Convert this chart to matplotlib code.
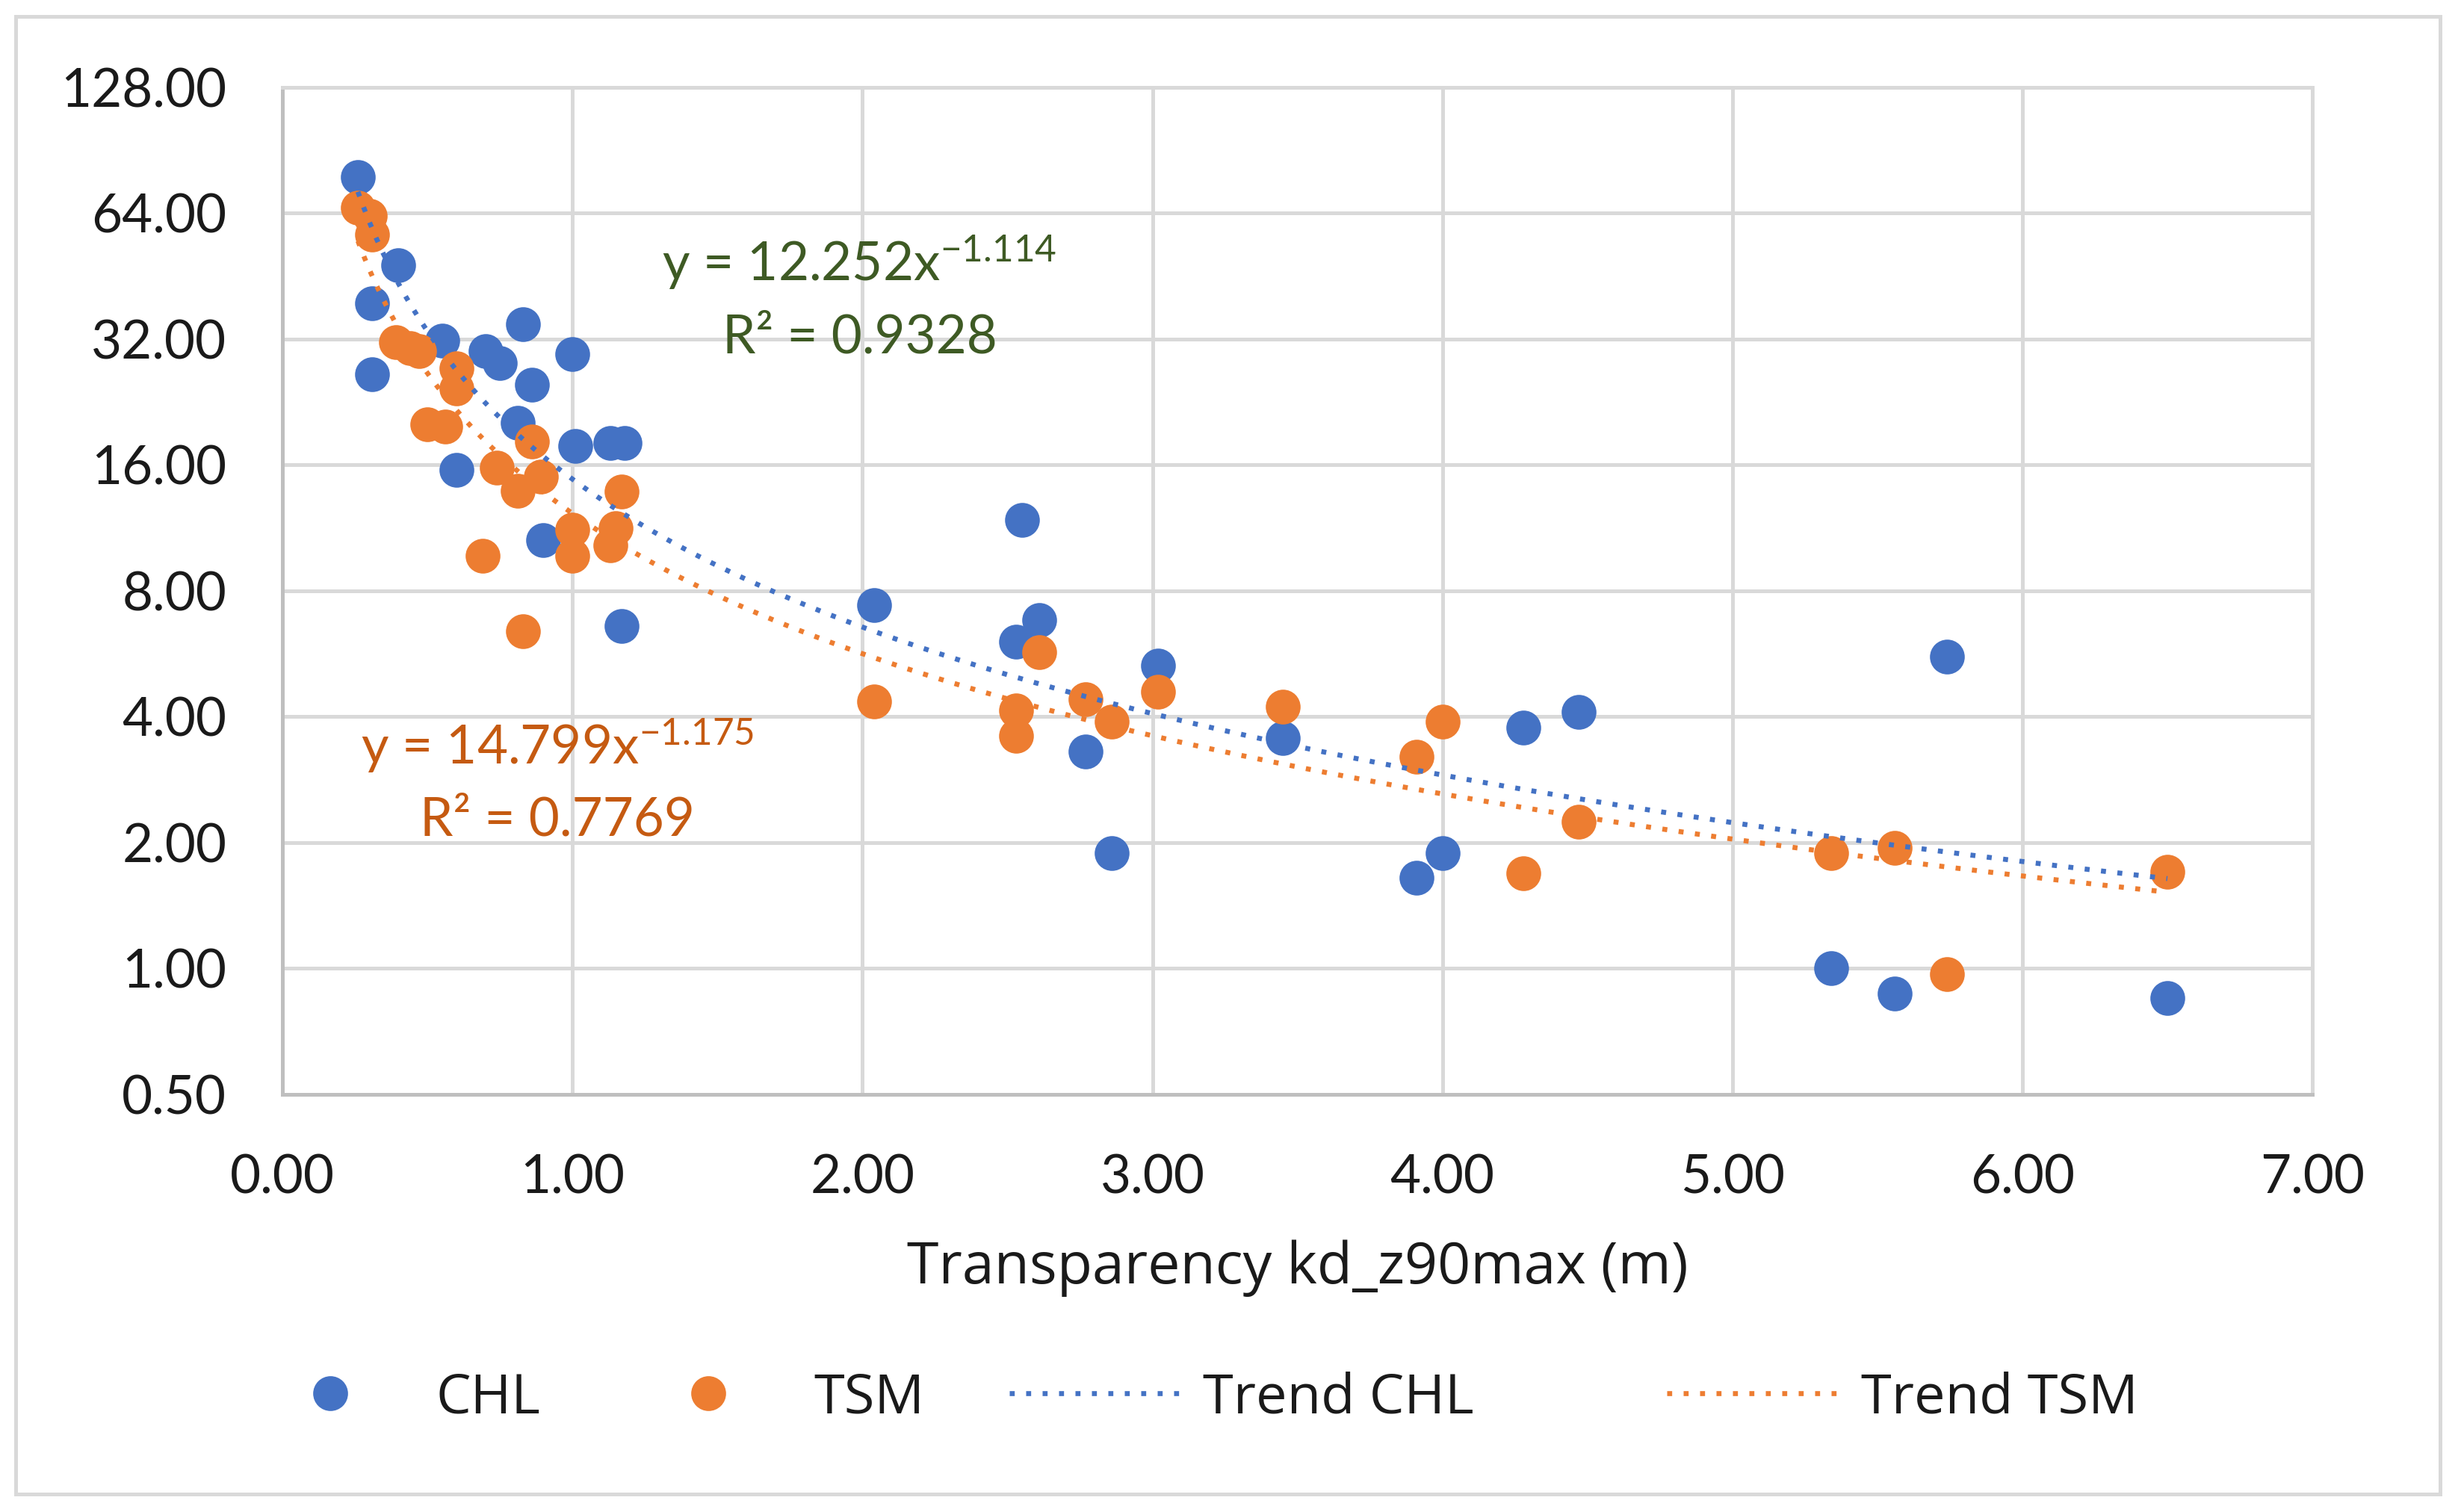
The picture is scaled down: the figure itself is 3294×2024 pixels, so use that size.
import numpy as np
import matplotlib.pyplot as plt
import matplotlib.patches as patches
from matplotlib.lines import Line2D
from matplotlib.ticker import FixedLocator, FuncFormatter, NullLocator

plt.rcParams['font.family'] = ['Lato', 'DejaVu Sans']
plt.rcParams['mathtext.fontset'] = 'custom'
plt.rcParams['mathtext.rm'] = 'Lato'
plt.rcParams['mathtext.default'] = 'regular'

# CHL samples (transparency in m, concentration)
chl_x = [0.26, 0.31, 0.40, 0.31, 0.55, 0.70, 0.75, 0.83, 0.86, 1.00, 0.81,
         1.01, 1.13, 1.18, 0.60, 0.90, 1.17, 2.04, 2.55, 2.61, 2.53, 3.02,
         2.77, 2.86, 3.45, 4.28, 4.47, 4.00, 3.91, 5.74, 5.34, 5.56, 6.50]
chl_y = [78.0, 39.0, 48.0, 26.4, 31.7, 30.0, 28.0, 34.8, 24.9, 29.5, 20.2,
         17.8, 18.1, 18.1, 15.6, 10.6, 6.6, 7.4, 11.8, 6.8, 6.05, 5.3,
         3.3, 1.89, 3.55, 3.77, 4.1, 1.89, 1.65, 5.56, 1.0, 0.87, 0.85]

# TSM samples
tsm_x = [0.26, 0.30, 0.31, 0.39, 0.44, 0.47, 0.60, 0.60, 0.50, 0.56, 0.86,
         0.74, 0.81, 0.89, 1.17, 1.00, 1.15, 1.00, 1.13, 0.69, 0.83, 2.04,
         2.61, 2.53, 2.53, 2.77, 2.86, 3.02, 3.45, 4.00, 3.91, 4.28, 4.47,
         5.34, 5.56, 5.74, 6.50]
tsm_y = [66.0, 63.0, 57.0, 31.5, 30.5, 30.0, 27.3, 24.4, 20.0, 19.8, 18.2,
         15.8, 13.9, 15.0, 13.8, 11.2, 11.3, 9.7, 10.3, 9.7, 6.4, 4.35,
         5.7, 4.15, 3.6, 4.4, 3.9, 4.6, 4.22, 3.89, 3.21, 1.69, 2.24,
         1.89, 1.94, 0.97, 1.70]

# power trendlines y = a * x^b, as printed in the two labels.
# note: in the source chart the green label goes with the orange line
# and the orange label with the blue line
lab1_a, lab1_b, lab1_r2 = 12.252, -1.114, 0.9328   # orange (TSM) line
lab2_a, lab2_b, lab2_r2 = 14.799, -1.175, 0.7769   # blue (CHL) line

x_ticks = [0, 1, 2, 3, 4, 5, 6, 7]
y_ticks = [0.5, 1, 2, 4, 8, 16, 32, 64, 128]
legend_labels = ['CHL', 'TSM', 'Trend CHL', 'Trend TSM']

BLUE = '#4472C4'
ORANGE = '#ED7D31'
GRID = '#D9D9D9'
TXT = '#1a1a1a'
FS = 17
DOTS = (1, 2.3)

fig = plt.figure(figsize=(3294 / 300, 2024 / 300), dpi=300)
ax = fig.add_axes([0.1148, 0.2762, 0.8248, 0.666])

ax.scatter(chl_x, chl_y, s=125, color=BLUE, linewidths=0, zorder=3)
ax.scatter(tsm_x, tsm_y, s=125, color=ORANGE, linewidths=0, zorder=3)


def trend(xv, a, b):
    xs = np.linspace(min(xv), max(xv), 300)
    return xs, a * xs ** b


xs, ys = trend(chl_x, lab2_a, lab2_b)
ax.plot(xs, ys, color=BLUE, lw=1.6, dashes=DOTS, zorder=4)
xs, ys = trend(tsm_x, lab1_a, lab1_b)
ax.plot(xs, ys, color=ORANGE, lw=1.6, dashes=DOTS, zorder=4)

ax.set_yscale('log', base=2)
ax.set_xlim(0, 7)
ax.set_ylim(0.5, 128)
ax.xaxis.set_major_locator(FixedLocator(x_ticks))
ax.yaxis.set_major_locator(FixedLocator(y_ticks))
ax.yaxis.set_minor_locator(NullLocator())
ax.xaxis.set_major_formatter(FuncFormatter(lambda v, p: '%.2f' % v))
ax.yaxis.set_major_formatter(FuncFormatter(lambda v, p: '%.2f' % v))
ax.tick_params(length=0, labelsize=FS, labelcolor=TXT)
ax.tick_params(axis='y', pad=18)
ax.tick_params(axis='x', pad=19)
ax.grid(True, color=GRID, lw=1.2, zorder=0)
ax.set_axisbelow(True)
for s in ['left', 'bottom']:
    ax.spines[s].set_color('#BFBFBF')
    ax.spines[s].set_linewidth(1.2)
for s in ['top', 'right']:
    ax.spines[s].set_color(GRID)
    ax.spines[s].set_linewidth(1.2)

ax.set_xlabel('Transparency kd_z90max (m)', fontsize=18.5, color=TXT,
              labelpad=12, family=['Open Sans', 'DejaVu Sans'])

# trendline labels
ax.text(1.99, 48.9, 'y = %.3fx$^{%s}$' % (lab1_a, lab1_b), fontsize=FS,
        color='#3E5A24', ha='center', va='center', zorder=5)
ax.text(1.99, 32.3, 'R² = %.4f' % lab1_r2, fontsize=FS,
        color='#3E5A24', ha='center', va='center', zorder=5)
ax.text(0.948, 3.41, 'y = %.3fx$^{%s}$' % (lab2_a, lab2_b), fontsize=FS,
        color='#C55A11', ha='center', va='center', zorder=5)
ax.text(0.948, 2.26, 'R² = %.4f' % lab2_r2, fontsize=FS,
        color='#C55A11', ha='center', va='center', zorder=5)

# legend: one entry per box so the spacing follows the original
handles = [
    Line2D([], [], ls='none', marker='o', ms=11.2, color=BLUE, mew=0),
    Line2D([], [], ls='none', marker='o', ms=11.2, color=ORANGE, mew=0),
    Line2D([], [], color=BLUE, lw=1.6, dashes=DOTS),
    Line2D([], [], color=ORANGE, lw=1.6, dashes=DOTS),
]
starts = [0.0982, 0.2519, 0.4101, 0.6773]
for h, lab, x0 in zip(handles, legend_labels, starts):
    fig.legend([h], [lab], loc='center left', bbox_to_anchor=(x0, 0.075),
               frameon=False, handlelength=3.2, handletextpad=0.3,
               borderpad=0, borderaxespad=0, labelcolor=TXT,
               prop={'family': ['Open Sans', 'DejaVu Sans'], 'size': 17.8})

# chart area border
fig.patches.append(patches.Rectangle((0.0065, 0.012), 0.985, 0.977,
                                     transform=fig.transFigure, fill=False,
                                     edgecolor=GRID, lw=1.2))

fig.savefig('out.png', dpi=300, facecolor='white')
